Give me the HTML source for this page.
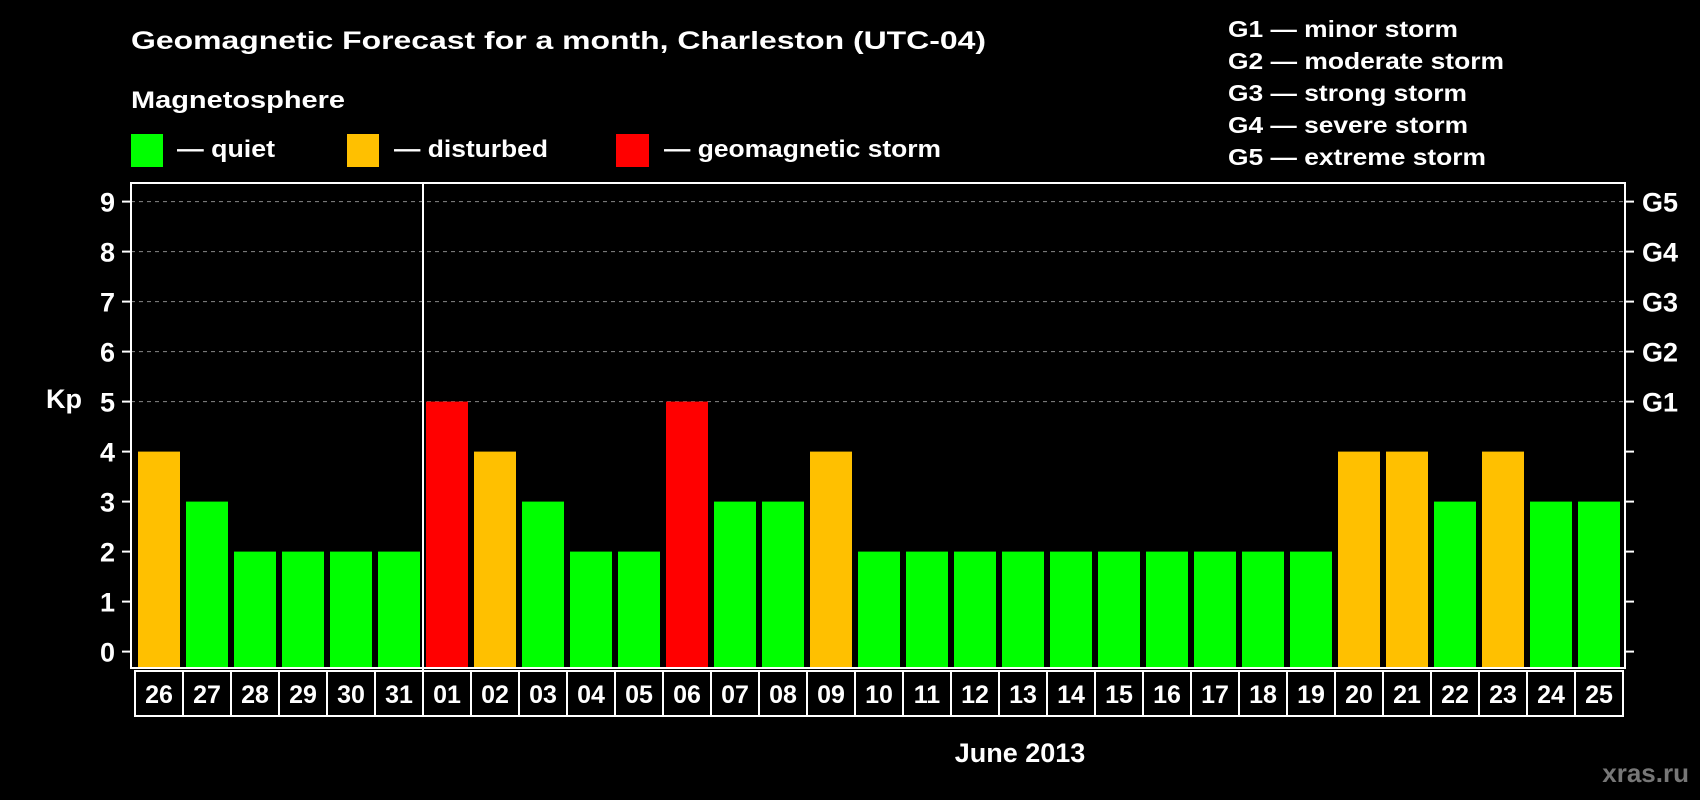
<!DOCTYPE html>
<html><head><meta charset="utf-8"><style>
html,body{margin:0;padding:0;background:#000;}
svg{display:block;font-family:"Liberation Sans",Arial,sans-serif;font-weight:bold;}
</style></head><body>
<svg id="chart" width="1700" height="800" viewBox="0 0 1700 800">
<rect x="0" y="0" width="1700" height="800" fill="#000"/>
<text x="131" y="49" fill="#fff" font-size="25" textLength="855" lengthAdjust="spacingAndGlyphs">Geomagnetic Forecast for a month, Charleston (UTC-04)</text>
<text x="131" y="108" fill="#fff" font-size="24" textLength="214" lengthAdjust="spacingAndGlyphs">Magnetosphere</text>
<rect x="131" y="134" width="32" height="33" fill="#00ff00"/>
<text x="177" y="157" fill="#fff" font-size="24" textLength="98" lengthAdjust="spacingAndGlyphs">— quiet</text>
<rect x="347" y="134" width="32" height="33" fill="#ffc000"/>
<text x="394" y="157" fill="#fff" font-size="24" textLength="154" lengthAdjust="spacingAndGlyphs">— disturbed</text>
<rect x="616" y="134" width="33" height="33" fill="#ff0000"/>
<text x="664" y="157" fill="#fff" font-size="24" textLength="277" lengthAdjust="spacingAndGlyphs">— geomagnetic storm</text>
<g fill="#fff" font-size="23">
<text x="1228" y="37" textLength="230" lengthAdjust="spacingAndGlyphs">G1 — minor storm</text>
<text x="1228" y="69" textLength="276" lengthAdjust="spacingAndGlyphs">G2 — moderate storm</text>
<text x="1228" y="101" textLength="239" lengthAdjust="spacingAndGlyphs">G3 — strong storm</text>
<text x="1228" y="133" textLength="240" lengthAdjust="spacingAndGlyphs">G4 — severe storm</text>
<text x="1228" y="165" textLength="258" lengthAdjust="spacingAndGlyphs">G5 — extreme storm</text>
</g>
<text x="64" y="408" fill="#fff" font-size="27" text-anchor="middle">Kp</text>
<text x="1020" y="762" fill="#fff" font-size="27" text-anchor="middle">June 2013</text>
<text x="1689" y="782" fill="#777" font-size="26" text-anchor="end">xras.ru</text>
<g id="grid"></g>
<g id="bars"></g>
<g id="axes"></g>
</svg>
<script>
const days = ["26","27","28","29","30","31","01","02","03","04","05","06","07","08","09","10","11","12","13","14","15","16","17","18","19","20","21","22","23","24","25"];
const kpValues = [4,3,2,2,2,2,5,4,3,2,2,5,3,3,4,2,2,2,2,2,2,2,2,2,2,4,4,3,4,3,3];
const yTicks = [0,1,2,3,4,5,6,7,8,9];
const gLabels = ["G1","G2","G3","G4","G5"];
const gLevels = [5,6,7,8,9];

const NS = "http://www.w3.org/2000/svg";
const pLeft = 131, pRight = 1625, pTop = 183, pBottom = 668;
const y0 = 651.6, perUnit = 50;
const x0 = 138, pitch = 48, barW = 42;
function yScale(v){ return y0 - v*perUnit; }
function xScale(i){ return x0 + i*pitch; }
function colorFor(v){ return v>=5 ? "#ff0000" : (v>=4 ? "#ffc000" : "#00ff00"); }
function mk(tag, attrs, parent){
  const e = document.createElementNS(NS, tag);
  for (const k in attrs) e.setAttribute(k, attrs[k]);
  parent.appendChild(e);
  return e;
}
const gridG = document.getElementById("grid");
const barsG = document.getElementById("bars");
const axesG = document.getElementById("axes");

gLevels.forEach((lv, i) => {
  const y = yScale(lv);
  const l = mk("line", {x1:pLeft, x2:pRight, y1:y, y2:y, stroke:"#888", "stroke-width":1, "stroke-dasharray":"4,4"}, gridG);
  
  
  const t = mk("text", {x:1642, y:y+10, fill:"#fff", "font-size":27}, axesG);
  t.textContent = gLabels[i];
  
  
});

kpValues.forEach((v, i) => {
  const yt = yScale(v);
  const r = mk("rect", {x:xScale(i), y:yt, width:barW, height:pBottom-yt, fill:colorFor(v)}, barsG);
  
  
});

yTicks.forEach(v => {
  const y = yScale(v);
  const tl = mk("line", {x1:122, x2:pLeft, y1:y, y2:y, stroke:"#fff", "stroke-width":2}, axesG);
  
  
  const tr = mk("line", {x1:pRight, x2:pRight+9, y1:y, y2:y, stroke:"#fff", "stroke-width":2}, axesG);
  
  
  const t = mk("text", {x:115, y:y+10, fill:"#fff", "font-size":27, "text-anchor":"end"}, axesG);
  t.textContent = v;
  
  
});

const frame = mk("rect", {x:pLeft, y:pTop, width:pRight-pLeft, height:pBottom-pTop, fill:"none", stroke:"#fff", "stroke-width":2}, axesG);


const sepIdx = days.indexOf("01");
const sx = xScale(sepIdx) - 3;
const sep = mk("line", {x1:sx, x2:sx, y1:pTop, y2:716, stroke:"#fff", "stroke-width":2}, axesG);



days.forEach((d, i) => {
  const cx = xScale(i) - 3;
  const c = mk("rect", {x:cx, y:671, width:pitch, height:45, fill:"none", stroke:"#fff", "stroke-width":2}, axesG);
  
  
  const t = mk("text", {x:cx+pitch/2, y:703, fill:"#fff", "font-size":25, "text-anchor":"middle"}, axesG);
  t.textContent = d;
  
  
});
</script>
</body></html>
